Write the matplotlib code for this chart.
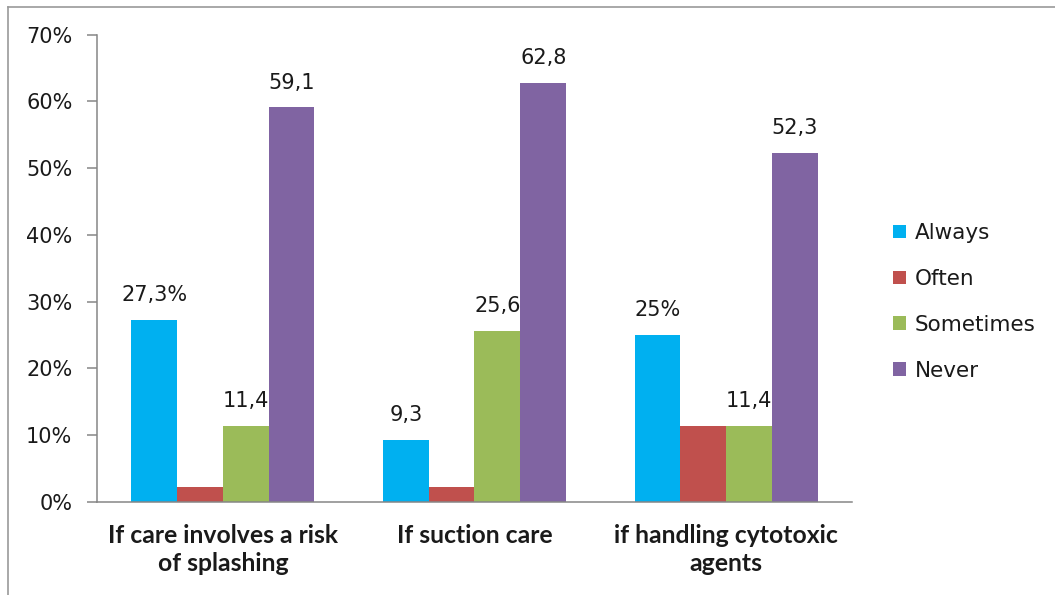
import matplotlib
matplotlib.use("Agg")
import matplotlib.pyplot as plt
from matplotlib.lines import Line2D
import numpy as np

plt.rcParams["font.family"] = ["DejaVu Sans"]

# data
categories = ["If care involves a risk\nof splashing", "If suction care",
              "if handling cytotoxic\nagents"]
series = ["Always", "Often", "Sometimes", "Never"]
always = [27.3, 9.3, 25.0]
often = [2.3, 2.3, 11.4]
sometimes = [11.4, 25.6, 11.4]
never = [59.1, 62.8, 52.3]
values = [always, often, sometimes, never]
labels_always = ["27,3%", "9,3", "25%"]
labels_often = ["", "", ""]
labels_sometimes = ["11,4", "25,6", "11,4"]
labels_never = ["59,1", "62,8", "52,3"]
bar_labels = [labels_always, labels_often, labels_sometimes, labels_never]
colors = ["#00B0F0", "#C0504D", "#9BBB59", "#8064A2"]
yticks = [0, 10, 20, 30, 40, 50, 60, 70]

text_color = "#1a1a1a"
axis_color = "#868686"

fig = plt.figure(figsize=(10.55, 5.95), dpi=100)
ax = fig.add_axes([97 / 1055, 1 - 502 / 595, (852 - 97) / 1055, (502 - 34.6) / 595])

x = np.arange(len(categories))
width = 0.182
offsets = (np.arange(len(series)) - 1.5) * width
for i, name in enumerate(series):
    bars = ax.bar(x + offsets[i], values[i], width, color=colors[i], label=name)
    for b, txt in zip(bars, bar_labels[i]):
        if txt:
            ax.annotate(txt, (b.get_x() + b.get_width() / 2, b.get_height()),
                        xytext=(0, 13.5), textcoords="offset points",
                        ha="center", va="baseline", fontsize=15, color=text_color)

ax.set_xlim(-0.5, len(categories) - 0.5)
ax.set_ylim(0, 70)
ax.set_yticks(yticks)
ax.set_yticklabels([f"{v}%" for v in yticks])
ax.set_xticks(x)
ax.set_xticklabels(categories, fontfamily="Lato", fontweight="bold", fontsize=17.8,
                   linespacing=1.3)

for s in ["top", "right"]:
    ax.spines[s].set_visible(False)
for s in ["left", "bottom"]:
    ax.spines[s].set_color(axis_color)
    ax.spines[s].set_linewidth(1.1)
ax.tick_params(axis="y", length=7.2, width=1.1, color=axis_color, pad=10.5,
               labelsize=15, labelcolor=text_color)
ax.tick_params(axis="x", length=0, pad=15.5, labelcolor=text_color)

leg = ax.legend(loc="center left", bbox_to_anchor=(893 / 1055, 1 - 302 / 595),
                bbox_transform=fig.transFigure, frameon=False, fontsize=15.5,
                handlelength=0.6, handleheight=0.6, handletextpad=0.4,
                labelspacing=1.2, borderpad=0, borderaxespad=0)
for t in leg.get_texts():
    t.set_color(text_color)

# outer chart border (top and left edges visible)
fig.add_artist(Line2D([8 / 1055, 1], [1 - 7 / 595, 1 - 7 / 595], color="#9a9a9a",
                      lw=1.2, transform=fig.transFigure))
fig.add_artist(Line2D([8 / 1055, 8 / 1055], [0, 1 - 7 / 595], color="#9a9a9a",
                      lw=1.2, transform=fig.transFigure))

fig.savefig("out.png", dpi=100)
plt.close(fig)
